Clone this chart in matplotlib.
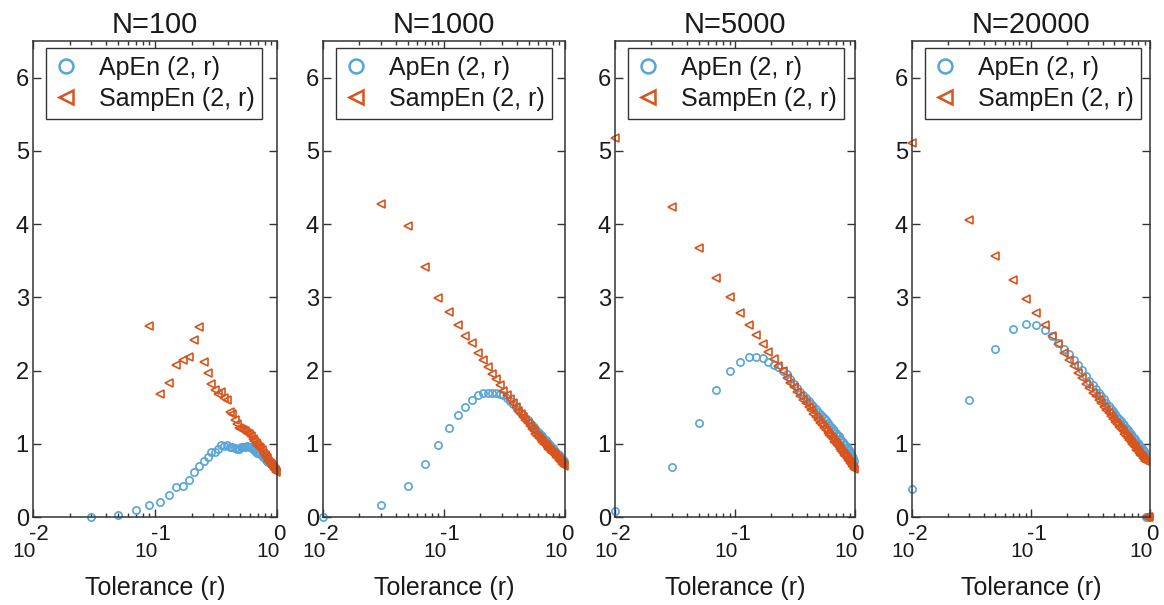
import numpy as np
import matplotlib.pyplot as plt
from matplotlib.lines import Line2D

plt.rcParams['font.family'] = ['Liberation Sans', 'DejaVu Sans']

nan = np.nan

# tolerance grid
r = [0.01, 0.03, 0.05, 0.07, 0.09, 0.11, 0.13, 0.15, 0.17, 0.19,
     0.21, 0.23, 0.25, 0.27, 0.29, 0.31, 0.33, 0.35, 0.37, 0.39,
     0.41, 0.43, 0.45, 0.47, 0.49, 0.51, 0.53, 0.55, 0.57, 0.59,
     0.61, 0.63, 0.65, 0.67, 0.69, 0.71, 0.73, 0.75, 0.77, 0.79,
     0.81, 0.83, 0.85, 0.87, 0.89, 0.91, 0.93, 0.95, 0.97, 0.99]

titles = ['N=100', 'N=1000', 'N=5000', 'N=20000']

apen_100 = [nan, 0.00, 0.03, 0.09, 0.16, 0.21, 0.30, 0.41, 0.42, 0.50,
            0.61, 0.70, 0.77, 0.82, 0.89, 0.89, 0.93, 0.98, 0.97, 0.99,
            0.96, 0.95, 0.94, 0.93, 0.93, 0.95, 0.95, 0.96, 0.97, 0.96,
            0.95, 0.93, 0.91, 0.89, 0.88, 0.87, 0.86, 0.84, 0.82, 0.80,
            0.78, 0.76, 0.75, 0.74, 0.72, 0.71, 0.69, 0.68, 0.67, 0.66]
sampen_100 = [nan, nan, nan, nan, 2.61, 1.68, 1.83, 2.08, 2.15, 2.19,
              2.42, 2.59, 2.11, 1.97, 1.82, 1.74, 1.68, 1.71, 1.62, 1.60,
              1.43, 1.40, 1.33, 1.27, 1.22, 1.20, 1.19, 1.17, 1.15, 1.13,
              1.11, 1.07, 1.04, 1.01, 0.98, 0.96, 0.94, 0.91, 0.88, 0.85,
              0.82, 0.80, 0.77, 0.74, 0.72, 0.70, 0.68, 0.66, 0.64, 0.62]

apen_1000 = [0.00, 0.17, 0.42, 0.73, 0.98, 1.22, 1.39, 1.50, 1.60, 1.66,
             1.69, 1.70, 1.70, 1.69, 1.68, 1.66, 1.62, 1.59, 1.54, 1.50,
             1.46, 1.42, 1.39, 1.35, 1.32, 1.29, 1.26, 1.23, 1.20, 1.18,
             1.15, 1.12, 1.10, 1.07, 1.05, 1.03, 1.01, 0.98, 0.96, 0.94,
             0.92, 0.90, 0.88, 0.86, 0.85, 0.83, 0.81, 0.79, 0.78, 0.76]
sampen_1000 = [nan, 4.28, 3.97, 3.42, 2.99, 2.80, 2.62, 2.47, 2.38, 2.24,
               2.14, 2.05, 1.95, 1.88, 1.80, 1.72, 1.66, 1.61, 1.55, 1.50,
               1.45, 1.41, 1.36, 1.32, 1.28, 1.24, 1.20, 1.17, 1.14, 1.11,
               1.08, 1.05, 1.03, 1.00, 0.98, 0.96, 0.93, 0.91, 0.89, 0.87,
               0.86, 0.84, 0.82, 0.80, 0.78, 0.77, 0.75, 0.73, 0.72, 0.70]

apen_5000 = [0.08, 0.68, 1.29, 1.73, 2.00, 2.12, 2.18, 2.18, 2.17, 2.12,
             2.08, 2.05, 2.00, 1.95, 1.88, 1.81, 1.76, 1.71, 1.67, 1.62,
             1.58, 1.54, 1.51, 1.47, 1.44, 1.41, 1.38, 1.35, 1.32, 1.29,
             1.26, 1.23, 1.20, 1.18, 1.15, 1.12, 1.10, 1.07, 1.05, 1.02,
             1.00, 0.98, 0.96, 0.93, 0.91, 0.89, 0.86, 0.83, 0.80, 0.77]
sampen_5000 = [5.18, 4.23, 3.68, 3.27, 3.00, 2.79, 2.62, 2.48, 2.36, 2.25,
               2.16, 2.06, 1.99, 1.90, 1.83, 1.77, 1.71, 1.65, 1.60, 1.55,
               1.50, 1.46, 1.41, 1.37, 1.33, 1.29, 1.26, 1.22, 1.19, 1.15,
               1.12, 1.09, 1.06, 1.03, 1.01, 0.98, 0.95, 0.93, 0.90, 0.88,
               0.85, 0.83, 0.81, 0.78, 0.76, 0.74, 0.72, 0.70, 0.68, 0.66]

apen_20000 = [0.38, 1.60, 2.29, 2.57, 2.64, 2.62, 2.55, 2.47, 2.38, 2.30,
              2.22, 2.15, 2.08, 2.01, 1.93, 1.86, 1.80, 1.75, 1.70, 1.65,
              1.61, 1.56, 1.52, 1.48, 1.45, 1.41, 1.37, 1.34, 1.31, 1.27,
              1.25, 1.22, 1.19, 1.16, 1.13, 1.11, 1.08, 1.06, 1.03, 1.01,
              0.99, 0.96, 0.94, 0.92, 0.90, 0.88, 0.00, 0.00, 0.00, 0.00]
sampen_20000 = [5.11, 4.05, 3.56, 3.23, 2.98, 2.79, 2.62, 2.47, 2.36, 2.24,
                2.15, 2.06, 1.97, 1.90, 1.82, 1.76, 1.70, 1.65, 1.60, 1.55,
                1.50, 1.46, 1.42, 1.38, 1.34, 1.30, 1.27, 1.23, 1.20, 1.17,
                1.14, 1.11, 1.08, 1.05, 1.02, 1.00, 0.97, 0.95, 0.92, 0.90,
                0.88, 0.85, 0.83, 0.81, 0.79, 0.77, 0.00, 0.00, 0.00, 0.00]

apen_all = [apen_100, apen_1000, apen_5000, apen_20000]
sampen_all = [sampen_100, sampen_1000, sampen_5000, sampen_20000]

xticks = [0.01, 0.1, 1]
xexps = ['-2', '-1', '0']

blue = '#56a5da'
red = '#d9541a'
dark = '#333333'
txt = '#1a1a1a'

fig = plt.figure(figsize=(11.64, 6.05), dpi=100)

# axes boxes in pixels (left, right)
boxes = [(33, 277), (323, 565), (615, 855), (912, 1150)]
top_px, bot_px = 41, 517
W, H = 1164, 605

for k in range(4):
    x0, x1 = boxes[k]
    ax = fig.add_axes([x0 / W, 1 - bot_px / H, (x1 - x0) / W, (bot_px - top_px) / H])
    ax.plot(r, apen_all[k], 'o', mfc='none', mec=blue, ms=5.2, mew=1.2, clip_on=False)
    ax.plot(r, sampen_all[k], '<', mfc='none', mec=red, ms=5.4, mew=1.2, clip_on=False)

    ax.set_xscale('log')
    ax.set_xlim(0.01, 1)
    ax.set_ylim(0, 6.5)
    ax.set_yticks(range(7))
    ax.set_xticks(xticks)
    ax.set_xticklabels(['', '', ''])
    ax.tick_params(which='both', direction='in', top=True, right=True, color=dark, width=1)
    ax.tick_params(which='major', length=6, labelsize=17, labelcolor=txt, pad=3)
    ax.tick_params(which='minor', length=3)
    for s in ax.spines.values():
        s.set_color(dark)
        s.set_linewidth(1.1)

    # MATLAB-style 10^n tick labels
    for t, e in zip(xticks, xexps):
        ax.annotate('10', xy=(t, 0), xycoords=('data', 'axes fraction'),
                    xytext=(2.2, -28.5), textcoords='offset points',
                    ha='right', va='baseline', fontsize=15, color=txt)
        ax.annotate(e, xy=(t, 0), xycoords=('data', 'axes fraction'),
                    xytext=(-3, -16.5), textcoords='offset points',
                    ha='left', va='baseline', fontsize=16, color=txt)

    ax.annotate('Tolerance (r)', xy=(0.5, 0), xycoords='axes fraction',
                xytext=(0, -56), textcoords='offset points',
                ha='center', va='baseline', fontsize=18, color=txt)
    ax.set_title(titles[k], fontsize=21, pad=6, color=txt)

    handles = [Line2D([], [], ls='none', marker='o', mfc='none', mec=blue, ms=10, mew=1.8),
               Line2D([], [], ls='none', marker='<', mfc='none', mec=red, ms=10, mew=1.8)]
    leg = ax.legend(handles, ['ApEn (2, r)', 'SampEn (2, r)'], loc='upper left',
                    bbox_to_anchor=(0.055, 0.985), borderaxespad=0, fontsize=18,
                    fancybox=False, framealpha=1, edgecolor=dark,
                    handlelength=1.0, handletextpad=0.8, labelspacing=0.3,
                    borderpad=0.3)
    leg.get_frame().set_linewidth(1.0)
    for t in leg.get_texts():
        t.set_color(txt)

fig.savefig('out.png', dpi=100)
